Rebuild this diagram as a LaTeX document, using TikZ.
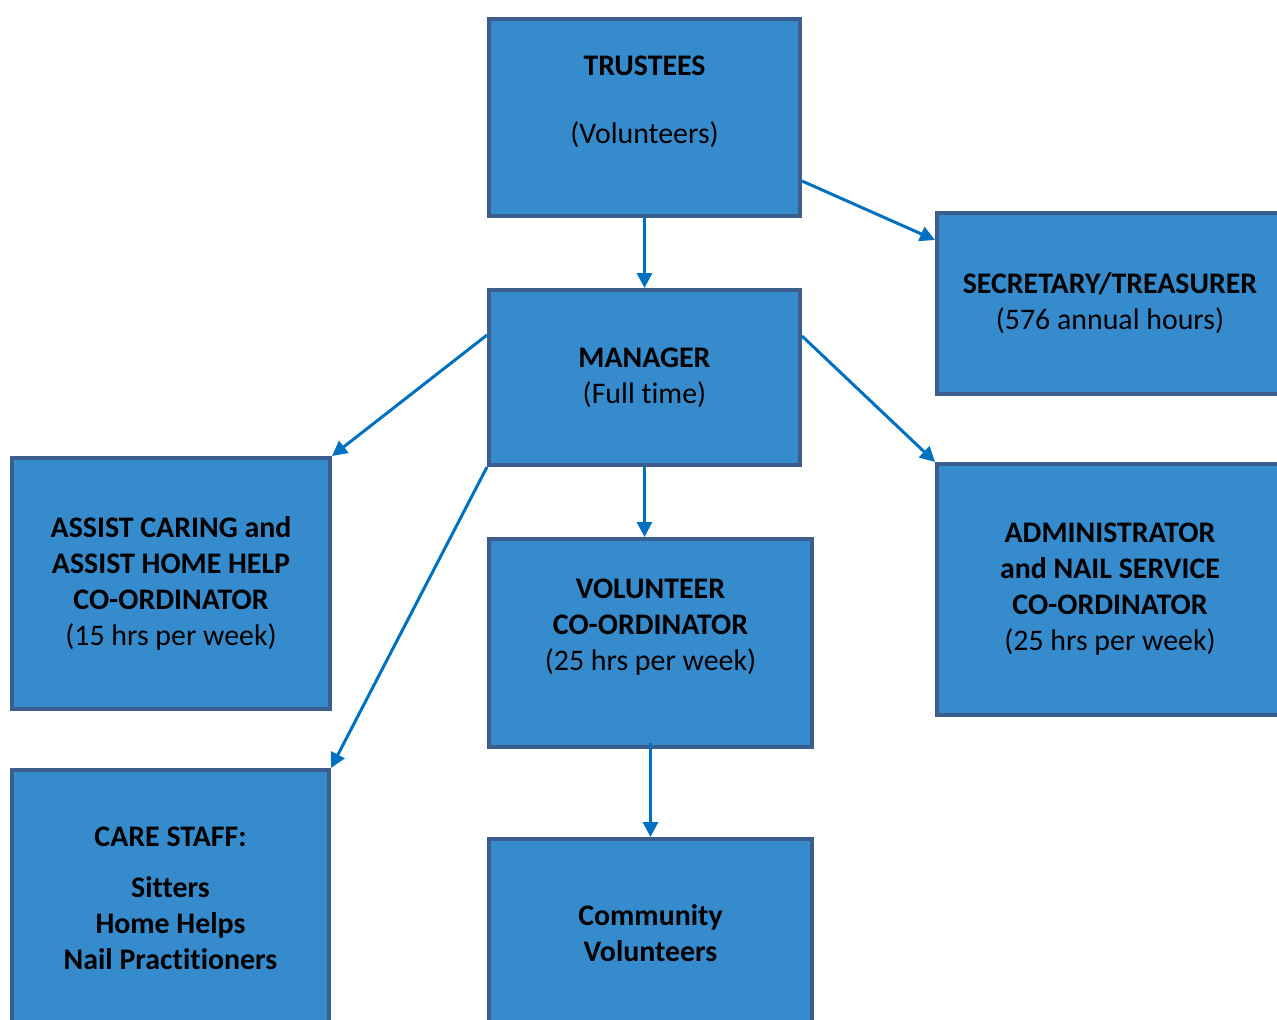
\documentclass[tikz,border=0pt]{standalone}
\usepackage{fontspec}
\setmainfont[Ligatures=NoCommon]{Carlito}
\usetikzlibrary{arrows.meta}
\definecolor{boxfill}{HTML}{368BCD}
\definecolor{boxline}{HTML}{3B5E8F}
\definecolor{linkblue}{HTML}{0070C0}
\begin{document}
\begin{tikzpicture}[x=0.02cm,y=-0.02cm,
	orgbox/.style={draw=boxline,fill=boxfill,line width=0.08cm,align=center,inner sep=0pt,
		font=\fontsize{17}{20.5}\selectfont},
	link/.style={draw=linkblue,line width=0.06cm,-{Triangle[length=0.3cm,width=0.3cm]}}]
	\clip (0,0) rectangle (1277,1019);
	\node[orgbox,minimum width=311*0.02cm,minimum height=197*0.02cm] (trustees) at (644.5,117.5) {\textbf{TRUSTEES}\\[-0.08cm] \\(Volunteers)\\ \mbox{}};
	\node[orgbox,minimum width=346*0.02cm,minimum height=181*0.02cm] (secretary) at (1110,303.5) {\textbf{SECRETARY/TREASURER}\\(576 annual hours)};
	\node[orgbox,minimum width=311*0.02cm,minimum height=175*0.02cm] (manager) at (644.5,377.5) {\textbf{MANAGER}\\(Full time)};
	\node[orgbox,minimum width=318*0.02cm,minimum height=251*0.02cm] (assist) at (171,583.5) {\textbf{ASSIST CARING and}\\\textbf{ASSIST HOME HELP}\\\textbf{CO-ORDINATOR}\\(15 hrs per week)};
	\node[orgbox,minimum width=323*0.02cm,minimum height=208*0.02cm] (volco) at (650.5,643) {\textbf{VOLUNTEER}\\\textbf{CO-ORDINATOR}\\(25 hrs per week)\\ \mbox{}};
	\node[orgbox,minimum width=346*0.02cm,minimum height=251*0.02cm] (admin) at (1110,589.5) {\textbf{ADMINISTRATOR}\\\textbf{and NAIL SERVICE}\\\textbf{CO-ORDINATOR}\\(25 hrs per week)};
	\node[orgbox,minimum width=317*0.02cm,minimum height=256*0.02cm] (care) at (170.5,898) {\textbf{CARE STAFF:}\\[0.3cm]\textbf{Sitters}\\\textbf{Home Helps}\\\textbf{Nail Practitioners}};
	\node[orgbox,minimum width=323*0.02cm,minimum height=188*0.02cm] (community) at (650.5,933) {\textbf{Community}\\\textbf{Volunteers}};
	\draw[link] (trustees.south) -- (manager.north);
	\draw[link] ([shift={(0,63.5)}]trustees.east) -- ([shift={(0,-63.5)}]secretary.west);
	\draw[link] ([shift={(0,-42.5)}]manager.west) -- (assist.north east);
	\draw[link] (manager.south west) -- (care.north east);
	\draw[link] (manager.south) -- (manager.south |- volco.north);
	\draw[link] ([shift={(0,-41.5)}]manager.east) -- (admin.north west);
	\draw[link] ([shift={(0,-6)}]volco.south) -- (community.north);
\end{tikzpicture}
\end{document}
